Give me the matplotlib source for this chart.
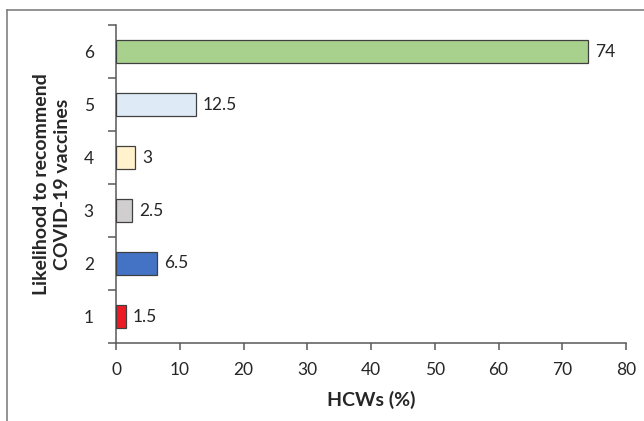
import matplotlib
matplotlib.use('Agg')
import matplotlib.pyplot as plt
from matplotlib.lines import Line2D
from matplotlib.ticker import FixedLocator

plt.rcParams['font.family'] = ['Lato', 'DejaVu Sans']

# data
levels = [1, 2, 3, 4, 5, 6]
hcw_pct = [1.5, 6.5, 2.5, 3, 12.5, 74]
value_labels = ['1.5', '6.5', '2.5', '3', '12.5', '74']
bar_colors = ['#ED1C24', '#4472C4', '#D0CECE', '#FFF2CC', '#DEEBF7', '#A9D18E']
xticks = [0, 10, 20, 30, 40, 50, 60, 70, 80]

axcol = '#595959'

fig = plt.figure(figsize=(6.44, 4.21), dpi=100)
ax = fig.add_axes([116/644, 1-343/421, 510/644, 318/421])

ax.barh(levels, hcw_pct, height=0.43, color=bar_colors, edgecolor='#404040', linewidth=0.9, zorder=3)
for y, v, s in zip(levels, hcw_pct, value_labels):
    ax.text(v + 1.1, y, s, va='center', ha='left', fontsize=12.5, color='#262626')

ax.set_xlim(0, 80)
ax.set_ylim(0.5, 6.5)
ax.set_xticks(xticks)
ax.set_yticks(levels)
ax.yaxis.set_minor_locator(FixedLocator([l - 0.5 for l in levels] + [6.5]))
ax.tick_params(axis='y', which='major', length=0, pad=16, labelsize=12.5, labelcolor='#262626')
ax.tick_params(axis='y', which='minor', length=6, width=1.1, color=axcol, direction='out')
ax.tick_params(axis='x', which='major', length=5, width=1.1, color=axcol, direction='out', pad=9,
               labelsize=12.5, labelcolor='#262626')

for side in ['top', 'right']:
    ax.spines[side].set_visible(False)
for side in ['left', 'bottom']:
    ax.spines[side].set_color(axcol)
    ax.spines[side].set_linewidth(1.1)

ax.set_xlabel('HCWs (%)', fontsize=14, fontweight='bold', color='#262626', labelpad=9)
ax.set_ylabel('Likelihood to recommend\nCOVID-19 vaccines', fontsize=14, fontweight='bold',
              color='#262626', labelpad=9, linespacing=1.3)

# outer frame (only top and left edges are visible in the image)
fx = 7/644
fy = 1 - 10/421
fig.add_artist(Line2D([fx, 1.01], [fy, fy], transform=fig.transFigure, color='#808080', lw=1.2))
fig.add_artist(Line2D([fx, fx], [fy, -0.01], transform=fig.transFigure, color='#808080', lw=1.2))

fig.savefig('out.png', dpi=100)
